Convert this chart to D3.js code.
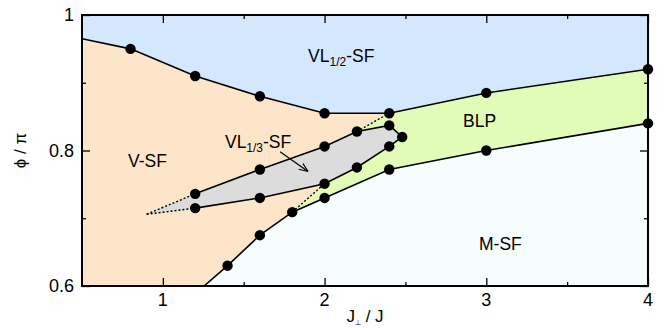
<!DOCTYPE html>
<html>
<head>
<meta charset="utf-8">
<script src="https://cdn.jsdelivr.net/npm/d3@7"></script>
<style>
  body { margin: 0; background: #fff; }
  text { font-family: "Liberation Sans", Arial, sans-serif; fill: #000; }
</style>
</head>
<body>
<svg id="chart" width="667" height="328"></svg>
<script>
// phase boundaries, [J_perp/J, phi/pi]
const vlHalfBoundary = [[0.5, 0.965], [0.8, 0.95], [1.2, 0.91], [1.6, 0.88], [2.0, 0.855], [2.4, 0.855], [3.0, 0.885], [4.0, 0.92]];
const msfBoundary = [[1.255, 0.6], [1.4, 0.63], [1.6, 0.675], [1.8, 0.709], [2.0, 0.73], [2.4, 0.772], [3.0, 0.8], [4.0, 0.84]];
const vlThirdUpper = [[1.2, 0.736], [1.6, 0.772], [2.0, 0.806], [2.2, 0.828], [2.4, 0.837], [2.48, 0.82]];
const vlThirdLower = [[1.2, 0.715], [1.6, 0.73], [2.0, 0.751], [2.2, 0.775], [2.4, 0.806], [2.48, 0.82]];
const vlThirdTip = [0.9, 0.706];
const dottedLines = [
    [vlThirdTip, [1.2, 0.736]],
    [vlThirdTip, [1.2, 0.715]],
    [[1.8, 0.709], [2.0, 0.751]],
    [[2.2, 0.828], [2.4, 0.855]]
];
const xTicks = [1, 2, 3, 4];
const xMinorTicks = [1.5, 2.5, 3.5];
const yTicks = [0.6, 0.8, 1];
const yMinorTicks = [0.7, 0.9];
const regionLabels = [
    { x: 1.898, y: 0.931, main: "VL", sub: "1/2", tail: "-SF" },
    { x: 0.785, y: 0.775, main: "V-SF" },
    { x: 2.856, y: 0.835, main: "BLP" },
    { x: 2.955, y: 0.653, main: "M-SF" },
    { x: 1.384, y: 0.804, main: "VL", sub: "1/3", tail: "-SF" }
];
const arrowFrom = [1.725, 0.798], arrowTo = [1.898, 0.769];

const svg = d3.select("#chart"),
    margin = { top: 15, right: 19, bottom: 42, left: 82 },
    width = +svg.attr("width") - margin.left - margin.right,
    height = +svg.attr("height") - margin.top - margin.bottom,
    g = svg.append("g").attr("transform", "translate(" + margin.left + "," + margin.top + ")");

const x = d3.scaleLinear().domain([0.5, 4]).range([0, width]);
const y = d3.scaleLinear().domain([0.6, 1]).range([height, 0]);
const line = d3.line().x(d => x(d[0])).y(d => y(d[1]));

const defs = svg.append("defs");
defs.append("clipPath").attr("id", "clip")
    .append("rect").attr("width", width).attr("height", height);
defs.append("marker").attr("id", "arrow")
    .attr("viewBox", "0 0 10 10").attr("refX", 10).attr("refY", 5)
    .attr("markerWidth", 9).attr("markerHeight", 9).attr("orient", "auto")
    .attr("markerUnits", "userSpaceOnUse")
    .append("path").attr("d", "M0,1 L10,5 L0,9")
    .attr("fill", "none").attr("stroke", "#000").attr("stroke-width", 1.2);

const fills = g.append("g").attr("clip-path", "url(#clip)");

// V-SF background
fills.append("rect").attr("width", width).attr("height", height).attr("fill", "#fde5c9");

// M-SF
fills.append("path")
    .attr("d", line(msfBoundary.concat([[4, 0.6]])) + "Z")
    .attr("fill", "#f7fcfc");

// VL 1/2 SF
fills.append("path")
    .attr("d", line(vlHalfBoundary.concat([[4, 1], [0.5, 1]])) + "Z")
    .attr("fill", "#d3e7fd");

// BLP
const blp = msfBoundary.slice(3)
    .concat(vlHalfBoundary.slice(5).reverse())
    .concat([[2.2, 0.828], [2.0, 0.751]]);
fills.append("path").attr("d", line(blp) + "Z").attr("fill", "#e1fcb7");

// VL 1/3 SF
const gray = [vlThirdTip].concat(vlThirdUpper, vlThirdLower.slice().reverse());
fills.append("path").attr("d", line(gray) + "Z").attr("fill", "#dcdcdc");

// boundary lines
const lines = g.append("g").attr("clip-path", "url(#clip)")
    .attr("fill", "none").attr("stroke", "#000").attr("stroke-width", 1.6);
[vlHalfBoundary, msfBoundary, vlThirdUpper, vlThirdLower].forEach(b => {
    lines.append("path").attr("d", line(b));
});
dottedLines.forEach(b => {
    lines.append("path").attr("d", line(b))
        .attr("stroke-width", 1.4).attr("stroke-dasharray", "2,2");
});

// markers (edge starting points have none)
const points = vlHalfBoundary.slice(1)
    .concat(msfBoundary.slice(1), vlThirdUpper, vlThirdLower.slice(0, -1));
g.selectAll(".pt")
    .data(points)
    .enter().append("circle")
    .attr("class", "pt")
    .attr("cx", d => x(d[0]))
    .attr("cy", d => y(d[1]))
    .attr("r", 5.2)
    .attr("fill", "#000");

// axes with inward ticks, mirrored
function drawTicks(axis, vals, len) {
    g.append("g")
        .attr("transform", axis === "bottom" ? "translate(0," + height + ")" : axis === "right" ? "translate(" + width + ",0)" : null)
        .call((axis === "bottom" ? d3.axisBottom(x) : axis === "top" ? d3.axisTop(x) : axis === "left" ? d3.axisLeft(y) : d3.axisRight(y))
            .tickValues(vals).tickSize(-len).tickFormat(""))
        .call(a => a.select(".domain").remove())
        .selectAll("line").attr("stroke", "#000").attr("stroke-width", 1.3);
}
["bottom", "top"].forEach(a => { drawTicks(a, xTicks, 8); drawTicks(a, xMinorTicks, 4); });
["left", "right"].forEach(a => { drawTicks(a, yTicks, 8); drawTicks(a, yMinorTicks, 4); });

g.append("rect").attr("width", width).attr("height", height)
    .attr("fill", "none").attr("stroke", "#000").attr("stroke-width", 2);

g.selectAll(".xl").data(xTicks).enter().append("text")
    .attr("x", d => x(d)).attr("y", height + 20)
    .attr("text-anchor", "middle").attr("font-size", 18)
    .text(d => d);
g.selectAll(".yl").data(yTicks).enter().append("text")
    .attr("x", -8).attr("y", d => y(d)).attr("dy", "0.35em")
    .attr("text-anchor", "end").attr("font-size", 18)
    .text(d => d);

// axis titles
const xt = svg.append("text")
    .attr("x", margin.left + width / 2).attr("y", 322)
    .attr("text-anchor", "middle").attr("font-size", 17);
xt.append("tspan").text("J");
xt.append("tspan").attr("font-size", 7).attr("dy", 3).text("\u22a5");
xt.append("tspan").attr("dy", -3).text(" / J");

svg.append("text")
    .attr("transform", "translate(26," + (margin.top + height / 2) + ") rotate(-90)")
    .attr("text-anchor", "middle").attr("font-size", 17)
    .text("\u03d5 / \u03c0");

// region labels
regionLabels.forEach(l => {
    const t = g.append("text").attr("x", x(l.x)).attr("y", y(l.y)).attr("font-size", 17.5);
    t.append("tspan").text(l.main);
    if (l.sub) {
        t.append("tspan").attr("font-size", 12).attr("dy", 4).text(l.sub);
        t.append("tspan").attr("dy", -4).text(l.tail);
    }
});

g.append("path")
    .attr("d", line([arrowFrom, arrowTo]))
    .attr("fill", "none").attr("stroke", "#000").attr("stroke-width", 1.2)
    .attr("marker-end", "url(#arrow)");
</script>
</body>
</html>
